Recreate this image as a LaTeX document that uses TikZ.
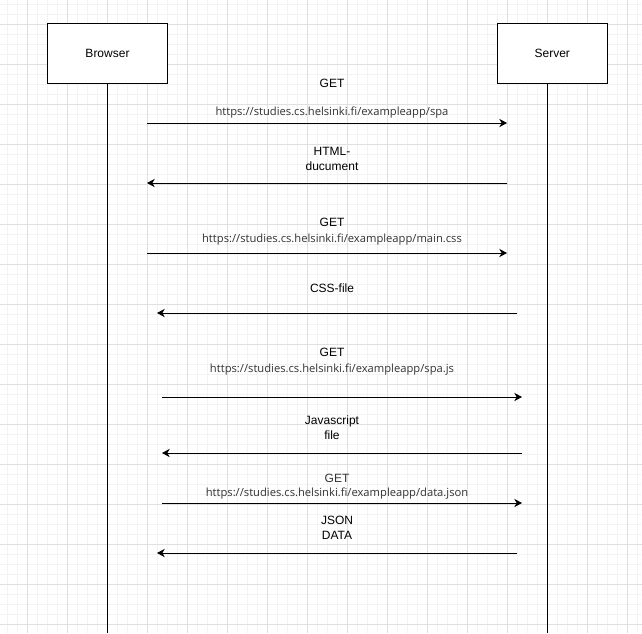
\documentclass[tikz,border=0pt]{standalone}
\usepackage{fontspec}
\setmainfont{Liberation Sans}
\newfontfamily\urlfont{Open Sans}
\usetikzlibrary{arrows.meta}
\definecolor{gridminor}{HTML}{F3F3F3}
\definecolor{gridmajor}{HTML}{E0E0E0}
\definecolor{urlgray}{HTML}{333333}
\begin{document}
\begin{tikzpicture}[x=0.75pt,y=-0.75pt,
  actor/.style={draw=black,line width=0.75pt,fill=white,minimum height=45pt,inner sep=0pt,font=\fontsize{9}{11}\selectfont},
  life/.style={draw=black,line width=0.75pt},
  msg/.style={draw=black,line width=0.75pt,-{Stealth[length=5.8pt,width=6.2pt,inset=1.8pt]}},
  lbl/.style={align=center,inner sep=0pt,font=\fontsize{9}{11.5}\selectfont},
  urllbl/.style={lbl,font=\urlfont\fontsize{8.4}{11}\selectfont,text=urlgray}]
\useasboundingbox (0,0) rectangle (642,633);
\fill[white] (0,0) rectangle (642,633);
% grid
\foreach \x in {7,17,...,637} \draw[gridminor,line width=0.75pt] (\x,0) -- (\x,633);
\foreach \y in {4,14,...,624} \draw[gridminor,line width=0.75pt] (0,\y) -- (642,\y);
\foreach \x in {27,67,...,627} \draw[gridmajor,line width=0.75pt] (\x,0) -- (\x,633);
\foreach \y in {24,64,...,624} \draw[gridmajor,line width=0.75pt] (0,\y) -- (642,\y);
% actors
\node[actor,minimum width=90pt] (browser) at (107.5,53.5) {Browser};
\node[actor,minimum width=82.5pt] (server) at (552.3,53.5) {Server};
\coordinate (btop) at (107.5,83.5);
\coordinate (bend) at (107.5,633);
\coordinate (stop) at (547.5,83.5);
\coordinate (send) at (547.5,633);
\draw[life] (btop) -- (bend);
\draw[life] (stop) -- (send);
% message endpoints
\coordinate (a1) at (147,123); \coordinate (b1) at (507,123);
\coordinate (a2) at (507,183); \coordinate (b2) at (147,183);
\coordinate (a3) at (147,253); \coordinate (b3) at (507,253);
\coordinate (a4) at (517,313); \coordinate (b4) at (157,313);
\coordinate (a5) at (162,397); \coordinate (b5) at (522,397);
\coordinate (a6) at (522,453); \coordinate (b6) at (162,453);
\coordinate (a7) at (162,503); \coordinate (b7) at (522,503);
\coordinate (a8) at (517,553); \coordinate (b8) at (157,553);
\draw[msg] (a1) -- (b1);
\draw[msg] (a2) -- (b2);
\draw[msg] (a3) -- (b3);
\draw[msg] (a4) -- (b4);
\draw[msg] (a5) -- (b5);
\draw[msg] (a6) -- (b6);
\draw[msg] (a7) -- (b7);
\draw[msg] (a8) -- (b8);
% labels
\node[lbl] (l1a) at (332,83) {GET};
\node[urllbl] (l1b) at (332,113) {https://studies.cs.helsinki.fi/exampleapp/spa};
\node[lbl] (l2) at (332,159) {HTML-\\ducument};
\node[lbl] (l3a) at (332,222.5) {GET};
\node[urllbl] (l3b) at (332,239.5) {https://studies.cs.helsinki.fi/exampleapp/main.css};
\node[lbl] (l4) at (332,288.5) {CSS-file};
\node[lbl] (l5a) at (332,352.5) {GET};
\node[urllbl] (l5b) at (332,369.5) {https://studies.cs.helsinki.fi/exampleapp/spa.js};
\node[lbl] (l6) at (332,428) {Javascript\\file};
\node[lbl,text=urlgray] (l7a) at (337,478) {GET};
\node[urllbl] (l7b) at (337,494) {https://studies.cs.helsinki.fi/exampleapp/data.json};
\node[lbl] (l8) at (337,528) {JSON\\DATA};
\end{tikzpicture}
\end{document}
